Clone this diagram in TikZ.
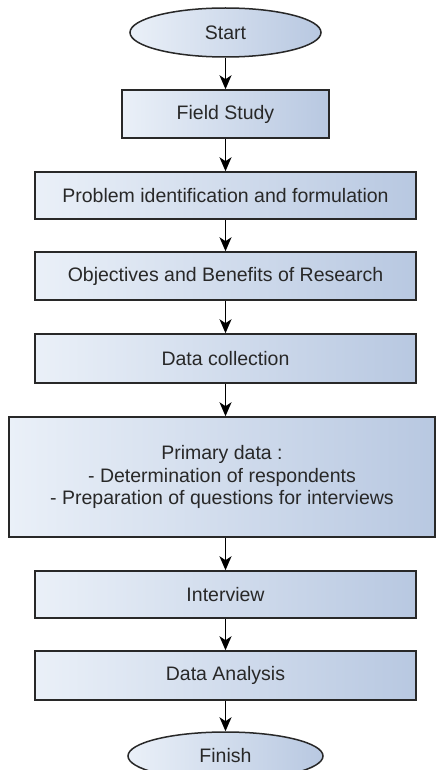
\documentclass[tikz,border=0pt]{standalone}
\usepackage{fontspec}
\setmainfont{Liberation Sans}
\usetikzlibrary{arrows.meta,shapes.geometric}
\definecolor{boxleft}{RGB}{234,240,248}
\definecolor{boxright}{RGB}{184,200,225}
\definecolor{edge}{RGB}{40,40,40}
\definecolor{txt}{RGB}{40,40,40}
\begin{document}
\begin{tikzpicture}[x=1pt,y=-1pt,
  stepbox/.style={draw=edge,line width=1.5pt,left color=boxleft,right color=boxright,
    inner sep=0pt,align=center,font=\fontsize{19.5}{22.5}\selectfont,text=txt},
  terminal/.style={stepbox,ellipse},
  flow/.style={-{Stealth[length=14pt,width=12pt,inset=4pt]},line width=1.5pt,black}]
\useasboundingbox (0,0) rectangle (436,770);
\node[terminal,minimum width=191pt,minimum height=49pt] (start) at (225.5,32.5) {Start};
\node[stepbox,minimum width=207pt,minimum height=48pt] (field) at (225.5,114) {Field Study};
\node[stepbox,minimum width=381pt,minimum height=47pt] (prob) at (225.5,195.5) {Problem identification and formulation};
\node[stepbox,minimum width=381pt,minimum height=48pt] (obj) at (225.5,276) {Objectives and Benefits of Research};
\node[stepbox,minimum width=381pt,minimum height=49pt] (dc) at (225.5,358.5) {Data collection};
\node[stepbox,minimum width=426pt,minimum height=120pt] (prim) at (222,477) {Primary data :\\- Determination of respondents\\- Preparation of questions for interviews};
\node[stepbox,minimum width=381pt,minimum height=47pt] (int) at (225.5,594.5) {Interview};
\node[stepbox,minimum width=381pt,minimum height=49pt] (ana) at (225.5,675.5) {Data Analysis};
\node[terminal,minimum width=195pt,minimum height=48pt] (fin) at (225.5,756) {Finish};
\draw[flow] (start) -- (field);
\draw[flow] (field) -- (prob);
\draw[flow] (prob) -- (obj);
\draw[flow] (obj) -- (dc);
\draw[flow] (dc.south) -- (dc.south |- prim.north);
\draw[flow] (int.north |- prim.south) -- (int.north);
\draw[flow] (int) -- (ana);
\draw[flow] (ana) -- (fin);
\end{tikzpicture}
\end{document}
